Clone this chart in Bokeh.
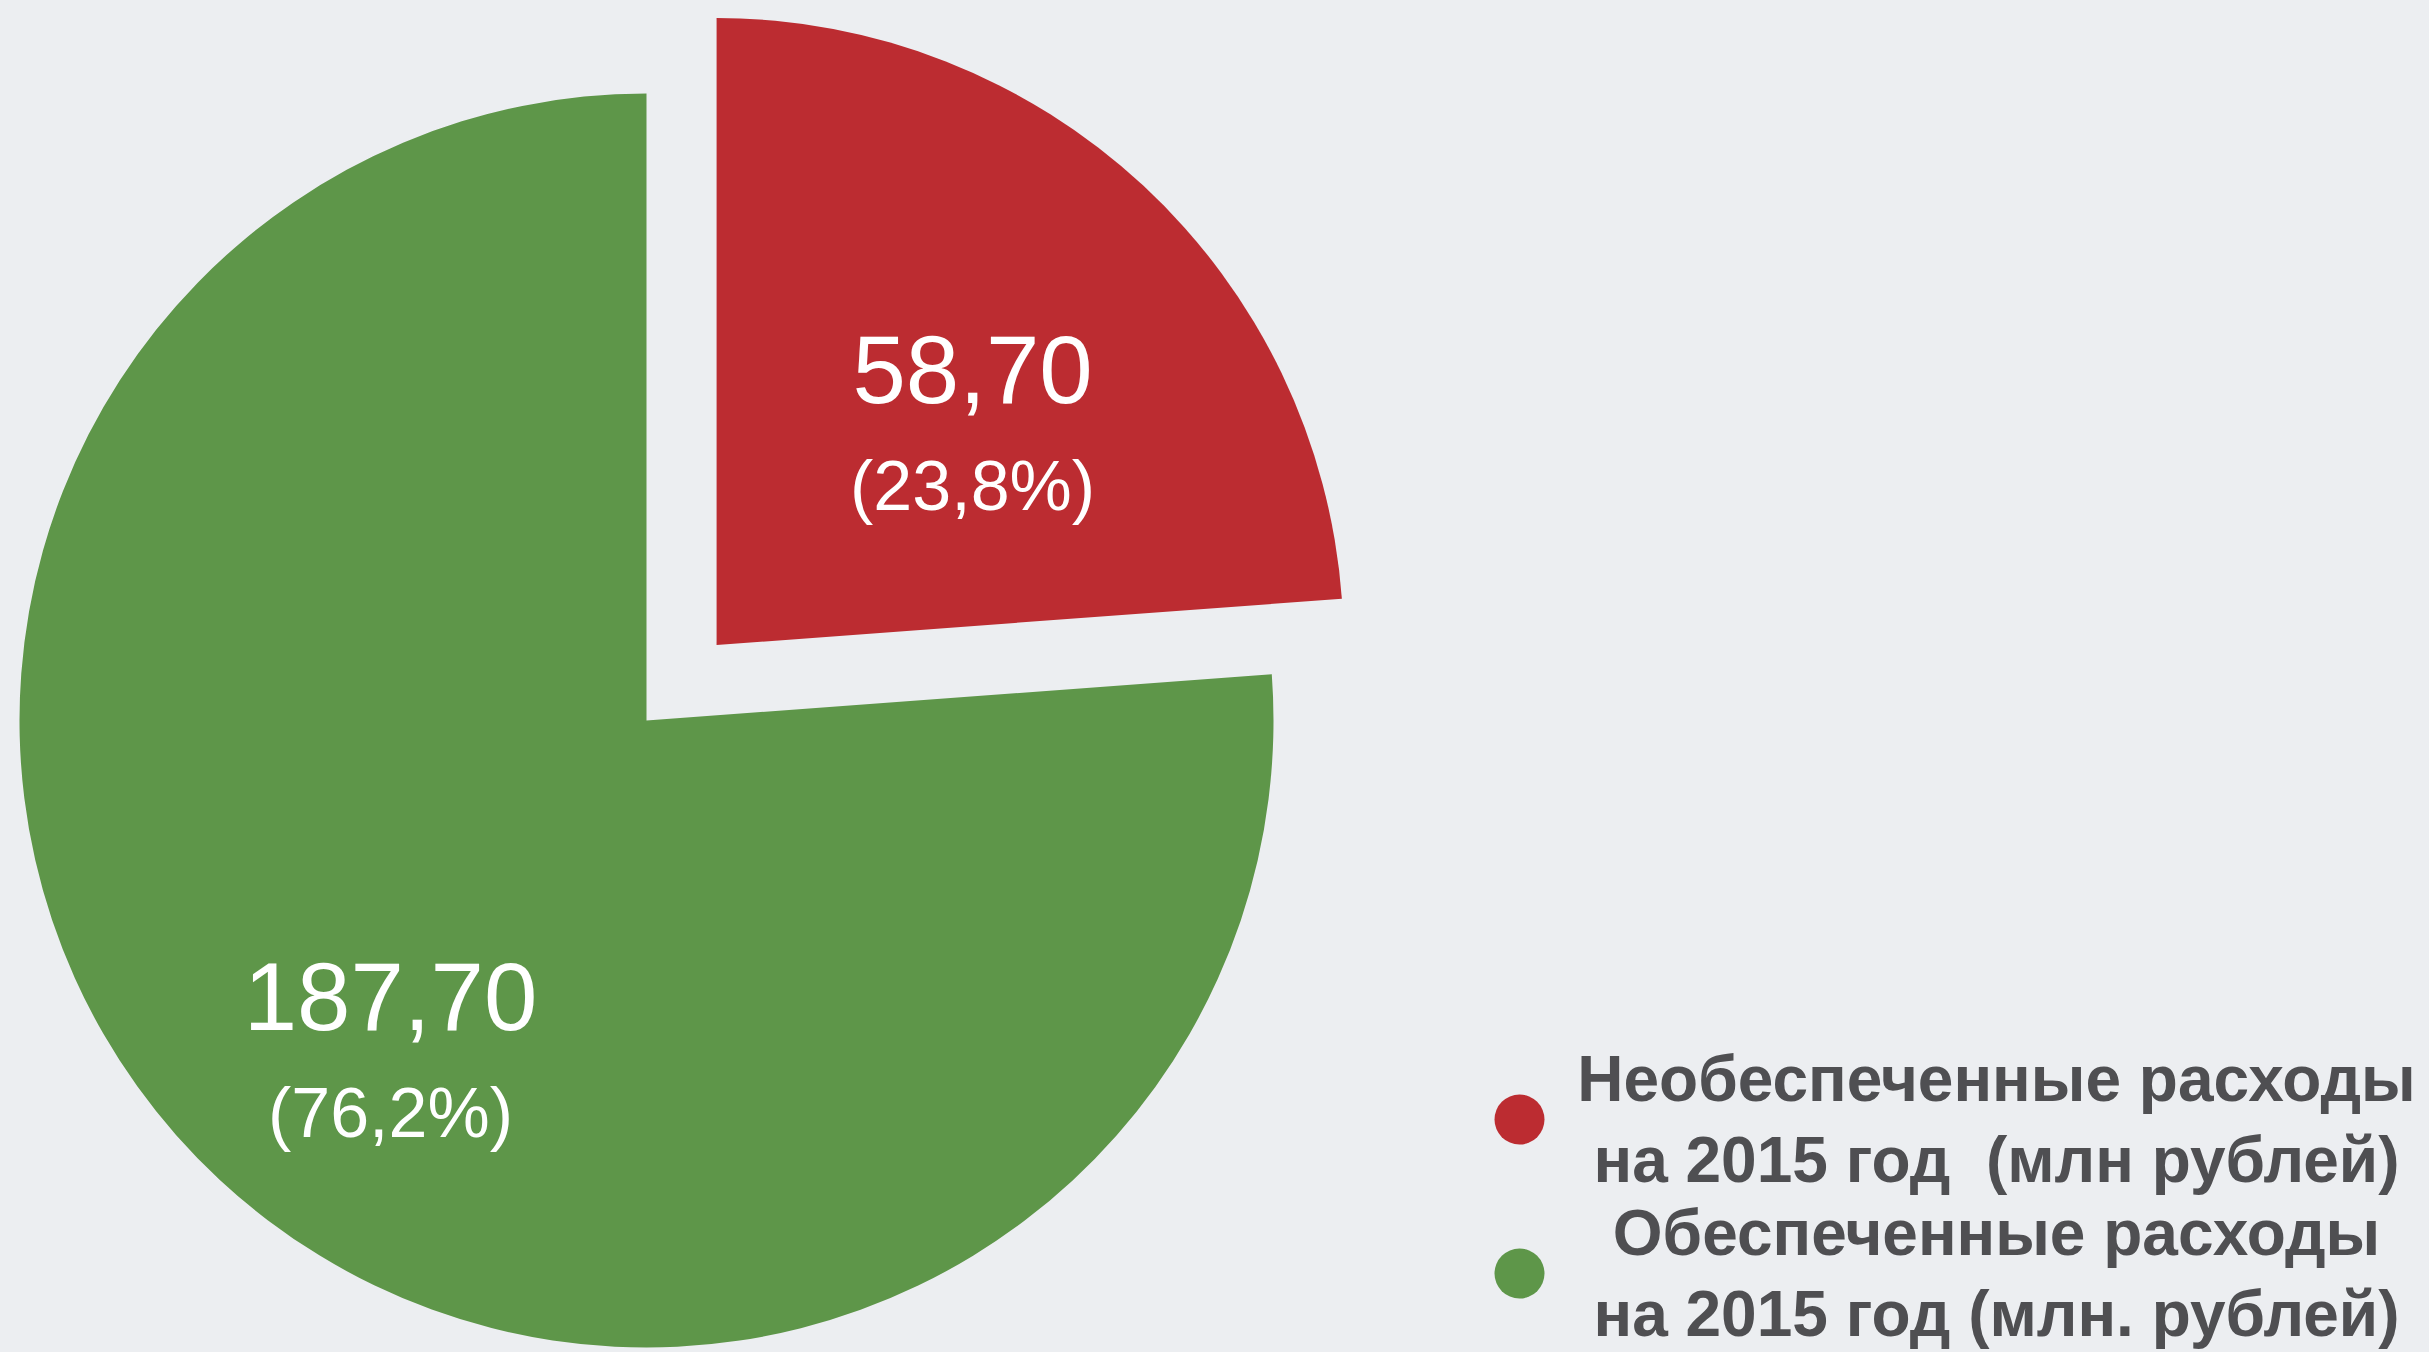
import numpy as np
from bokeh.plotting import figure
from bokeh.models import Range1d, ColumnDataSource
from bokeh.core.properties import value
from bokeh.embed import file_html
from bokeh.resources import INLINE

# ---- data ----
categories = ["Необеспеченные расходы\nна 2015 год\u00a0\u00a0(млн рублей)",
              "Обеспеченные расходы\nна 2015 год (млн. рублей)"]
values = [58.70, 187.70]
colors = ["#BC2C31", "#5E9649"]

# ---- layout constants ----
W, H = 2429, 1352
R = 627
EXPLODE = [103, 0]
BG = "#ECEEF1"

vals = np.array(values)
frac = vals / vals.sum()
ends = np.pi / 2 - 2 * np.pi * np.cumsum(frac)
starts = np.concatenate([[np.pi / 2], ends[:-1]])
mids = (starts + ends) / 2
cx = np.array(EXPLODE) * np.cos(mids)
cy = np.array(EXPLODE) * np.sin(mids)

def fmt(v, d):
    return f"{v:.{d}f}".replace(".", ",")

val_txt = [fmt(v, 2) for v in values]
pct_txt = ["(" + fmt(f * 100, 1) + "%)" for f in frac]
lx = cx + 0.6 * R * np.cos(mids)
ly = cy + 0.6 * R * np.sin(mids)

src = ColumnDataSource(dict(cx=cx, cy=cy, start=starts, end=ends, color=colors,
                            lx=lx, ly=ly, val=val_txt, pct=pct_txt))

p = figure(width=W, height=H, output_backend="svg", toolbar_location=None,
           x_range=Range1d(-646, W - 646), y_range=Range1d(-632, H - 632),
           min_border=0)
p.axis.visible = False
p.grid.visible = False
p.outline_line_color = None
p.background_fill_color = BG
p.border_fill_color = BG

p.wedge(x="cx", y="cy", radius=R, start_angle="start", end_angle="end",
        direction="clock", fill_color="color", line_color=None, source=src)

p.text(x="lx", y="ly", text="val", source=src, text_color="white",
       text_font=value("Liberation Sans"), text_font_size="96px",
       text_align="center", text_baseline="middle")
p.text(x="lx", y="ly", text="pct", source=src, text_color="white",
       text_font=value("Liberation Sans"), text_font_size="70px",
       text_align="center", text_baseline="middle", y_offset=117)

# legend
leg_y = [-399, -553]
leg = ColumnDataSource(dict(x=[873, 873], y=leg_y, color=colors,
                            tx=[1350, 1350], label=categories))
p.scatter(x="x", y="y", size=50, marker="circle", fill_color="color",
          line_color=None, source=leg)
p.text(x="tx", y="y", text="label", source=leg, text_color="#4F4F52",
       text_font=value("Liberation Sans"), text_font_style="bold",
       text_font_size="64px", text_align="center", text_baseline="middle",
       text_line_height=1.12)

html = file_html(p, INLINE)
html = html.replace("<head>", "<head><style>body{background:%s;}</style>" % BG, 1)
open("out.html", "w").write(html)
